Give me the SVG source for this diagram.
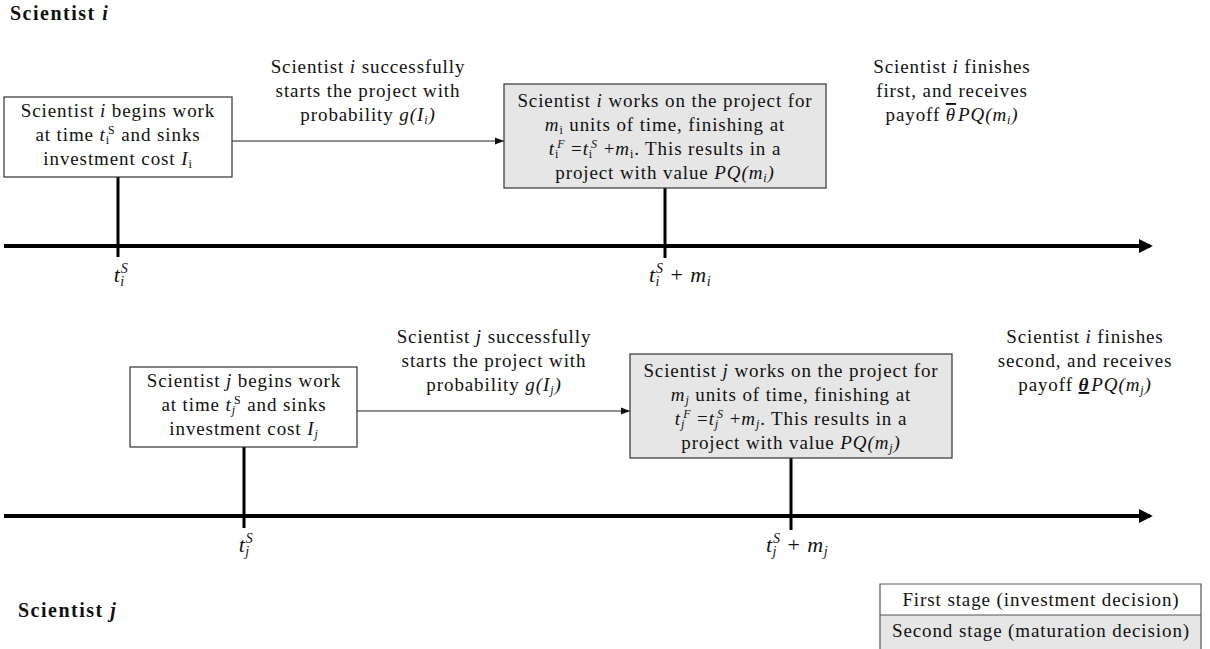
<svg xmlns="http://www.w3.org/2000/svg" width="1210" height="649" viewBox="0 0 1210 649">
<defs>
<style>
text{font-family:"Liberation Serif","DejaVu Serif",serif;font-size:19px;letter-spacing:0.9px;fill:#111;}
.c{text-anchor:middle;}
.m{font-style:italic;}
.sb{font-size:12px;baseline-shift:-3px;}
.sp{font-size:12px;baseline-shift:7px;}
.title{font-weight:bold;font-size:20px;letter-spacing:1.5px;}
.box{fill:#fff;stroke:#333;stroke-width:1.2;}
.gbox{fill:#e6e6e6;stroke:#333;stroke-width:1.2;}
.axis{stroke:#000;stroke-width:4;fill:none;}
.tick{stroke:#000;stroke-width:3;fill:none;}
.conn{stroke:#222;stroke-width:1.2;fill:none;}
.lab{font-style:italic;font-size:22px;letter-spacing:0.5px;}
.lsb{font-size:14px;baseline-shift:-4px;}
.lsp{font-size:14px;baseline-shift:9px;}
.up{font-style:normal;}
</style>
<marker id="ah" viewBox="0 0 10 10" refX="10" refY="5" markerWidth="9" markerHeight="9" markerUnits="userSpaceOnUse" orient="auto"><path d="M0,1 L10,5 L0,9 z" fill="#111"/></marker>
<marker id="big" viewBox="0 0 10 10" refX="8" refY="5" markerWidth="3.5" markerHeight="3.5" orient="auto"><path d="M0,0 L10,5 L0,10 z" fill="#000"/></marker>
</defs>

<g id="title-i"><text x="10" y="20" class="title">Scientist <tspan class="m">i</tspan></text></g>
<g id="title-j"><text x="18" y="617" class="title">Scientist <tspan class="m">j</tspan></text></g>

<g id="connectors">
<line class="axis" x1="4" y1="246" x2="1150" y2="246" marker-end="url(#big)"/>
<line class="axis" x1="4" y1="516" x2="1150" y2="516" marker-end="url(#big)"/>
<line class="tick" x1="118" y1="177" x2="118" y2="257"/>
<line class="tick" x1="665" y1="188" x2="665" y2="258"/>
<line class="tick" x1="244" y1="447" x2="244" y2="528"/>
<line class="tick" x1="791" y1="458" x2="791" y2="530"/>
<line class="conn" x1="232" y1="141" x2="504" y2="141" marker-end="url(#ah)"/>
<line class="conn" x1="357" y1="411" x2="630" y2="411" marker-end="url(#ah)"/>
</g>

<g id="box-i-begin">
<rect class="box" x="4" y="97" width="228" height="80"/>
<text class="c" x="118" y="117">Scientist <tspan class="m">i</tspan> begins work</text>
<text class="c" x="118" y="141">at time <tspan class="m">t</tspan><tspan class="sb">i</tspan><tspan class="sp" dx="-2">S</tspan> and sinks</text>
<text class="c" x="118" y="165">investment cost <tspan class="m">I</tspan><tspan class="sb">i</tspan></text>
</g>

<g id="label-i-start">
<text class="c" x="368" y="73">Scientist <tspan class="m">i</tspan> successfully</text>
<text class="c" x="368" y="97">starts the project with</text>
<text class="c" x="368" y="121">probability <tspan class="m">g(I</tspan><tspan class="sb m">i</tspan><tspan class="m">)</tspan></text>
</g>

<g id="box-i-work">
<rect class="gbox" x="504" y="84" width="322" height="104"/>
<text class="c" x="665" y="107">Scientist <tspan class="m">i</tspan> works on the project for</text>
<text class="c" x="665" y="131"><tspan class="m">m</tspan><tspan class="sb">i</tspan> units of time, finishing at</text>
<text class="c" x="665" y="155"><tspan class="m">t</tspan><tspan class="sb">i</tspan><tspan class="sp m" dx="-2">F</tspan> =<tspan class="m">t</tspan><tspan class="sb">i</tspan><tspan class="sp m" dx="-2">S</tspan> +<tspan class="m">m</tspan><tspan class="sb">i</tspan>. This results in a</text>
<text class="c" x="665" y="179">project with value <tspan class="m">PQ(m</tspan><tspan class="sb m">i</tspan><tspan class="m">)</tspan></text>
</g>

<g id="label-i-finish">
<text class="c" x="952" y="73">Scientist <tspan class="m">i</tspan> finishes</text>
<text class="c" x="952" y="97">first, and receives</text>
<text class="c" x="952" y="121">payoff <tspan class="m" style="text-decoration:overline">θ</tspan><tspan class="m" dx="2">PQ(m</tspan><tspan class="sb m">i</tspan><tspan class="m">)</tspan></text>
</g>

<g id="tick-labels-i">
<text class="lab c" x="121" y="282">t<tspan class="lsb">i</tspan><tspan class="lsp" dx="-4">S</tspan></text>
<text class="lab c" x="680" y="282">t<tspan class="lsb">i</tspan><tspan class="lsp" dx="-4">S</tspan><tspan class="up" dx="7">+</tspan><tspan dx="7">m</tspan><tspan class="lsb">i</tspan></text>
</g>

<g id="box-j-begin">
<rect class="box" x="130" y="367" width="227" height="80"/>
<text class="c" x="244" y="387">Scientist <tspan class="m">j</tspan> begins work</text>
<text class="c" x="244" y="411">at time <tspan class="m">t</tspan><tspan class="sb m">j</tspan><tspan class="sp" dx="-2">S</tspan> and sinks</text>
<text class="c" x="244" y="435">investment cost <tspan class="m">I</tspan><tspan class="sb m">j</tspan></text>
</g>

<g id="label-j-start">
<text class="c" x="494" y="343">Scientist <tspan class="m">j</tspan> successfully</text>
<text class="c" x="494" y="367">starts the project with</text>
<text class="c" x="494" y="391">probability <tspan class="m">g(I</tspan><tspan class="sb m">j</tspan><tspan class="m">)</tspan></text>
</g>

<g id="box-j-work">
<rect class="gbox" x="630" y="354" width="322" height="104"/>
<text class="c" x="791" y="377">Scientist <tspan class="m">j</tspan> works on the project for</text>
<text class="c" x="791" y="401"><tspan class="m">m</tspan><tspan class="sb m">j</tspan> units of time, finishing at</text>
<text class="c" x="791" y="425"><tspan class="m">t</tspan><tspan class="sb m">j</tspan><tspan class="sp m" dx="-2">F</tspan> =<tspan class="m">t</tspan><tspan class="sb m">j</tspan><tspan class="sp m" dx="-2">S</tspan> +<tspan class="m">m</tspan><tspan class="sb m">j</tspan>. This results in a</text>
<text class="c" x="791" y="449">project with value <tspan class="m">PQ(m</tspan><tspan class="sb m">j</tspan><tspan class="m">)</tspan></text>
</g>

<g id="label-j-finish">
<text class="c" x="1085" y="343">Scientist <tspan class="m">i</tspan> finishes</text>
<text class="c" x="1085" y="367">second, and receives</text>
<text class="c" x="1085" y="391">payoff <tspan class="m" style="font-weight:bold;text-decoration:underline">θ</tspan><tspan class="m" dx="2">PQ(m</tspan><tspan class="sb m">j</tspan><tspan class="m">)</tspan></text>
</g>

<g id="tick-labels-j">
<text class="lab c" x="246" y="552">t<tspan class="lsb">j</tspan><tspan class="lsp" dx="-4">S</tspan></text>
<text class="lab c" x="797" y="552">t<tspan class="lsb">j</tspan><tspan class="lsp" dx="-4">S</tspan><tspan class="up" dx="7">+</tspan><tspan dx="7">m</tspan><tspan class="lsb">j</tspan></text>
</g>

<g id="legend">
<rect x="880" y="584" width="321" height="31" fill="#fff"/>
<rect x="880" y="615" width="321" height="34" fill="#e6e6e6"/>
<path d="M880,649 V584 H1201 V649 M880,615 H1201" fill="none" stroke="#555" stroke-width="1.2"/>
<text class="c" x="1041" y="606">First stage (investment decision)</text>
<text class="c" x="1041" y="637">Second stage (maturation decision)</text>
</g>
</svg>
